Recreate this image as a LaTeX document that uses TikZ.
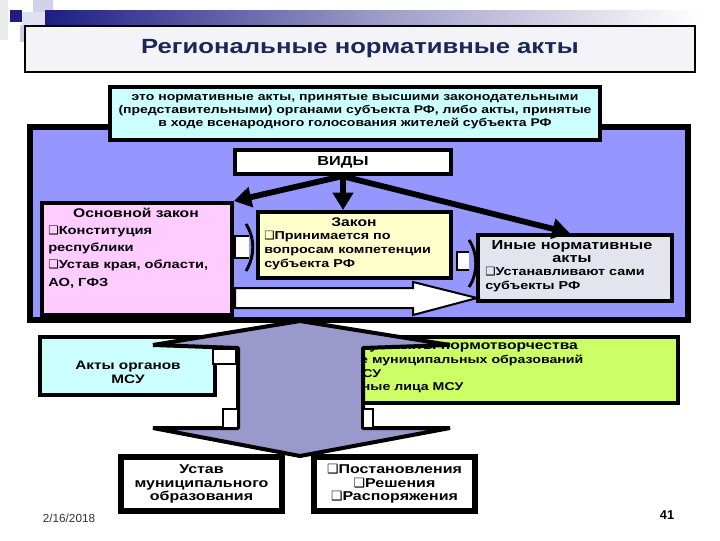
\documentclass[tikz,border=0pt]{standalone}
\usepackage{fontspec}
\setmainfont{Liberation Sans}
\newfontfamily\widefont[FakeStretch=1.25]{Liberation Sans}
\newfontfamily\symfont{DejaVu Sans}
\usetikzlibrary{arrows.meta}
\usetikzlibrary{fit}

\definecolor{barnavy}{RGB}{30,30,130}
\definecolor{titlegray}{RGB}{244,244,248}
\definecolor{titlenavy}{RGB}{25,40,90}
\definecolor{panelblue}{RGB}{150,150,255}
\definecolor{defcyan}{RGB}{204,255,255}
\definecolor{lawpink}{RGB}{255,204,255}
\definecolor{lawyellow}{RGB}{255,255,204}
\definecolor{othergray}{RGB}{228,228,238}
\definecolor{arrowlilac}{RGB}{153,153,204}
\definecolor{msucyan}{RGB}{204,255,255}
\definecolor{subjgreen}{RGB}{204,255,102}

\newcommand{\bsq}{{\symfont ❑}}

\begin{document}
\begin{tikzpicture}[x=0.75pt,y=0.75pt,yscale=-1,xscale=1,
  box/.style={draw=black,line width=3pt,inner sep=0pt},
  txt/.style={font=\widefont\bfseries\fontsize{8.3}{10}\selectfont,inner sep=0pt},
  conn/.style={line width=4.4pt,-{Triangle[length=13pt,width=15pt]}}]
\useasboundingbox (0,0) rectangle (720,540);

%Shape: corner squares
\fill[white] (0,0) rectangle (720,540);
\fill[black!8] (0,0) rectangle (8,40);
\fill[arrowlilac!45] (33,0) rectangle (53,12);
\fill[arrowlilac!30] (22,12) rectangle (45,25);
\fill[arrowlilac!50] (20,25) rectangle (26,42);
\shade[left color=barnavy,right color=white,middle color=barnavy!45!white] (45,10) rectangle (700,25);
\fill[barnavy] (10,10) rectangle (22,22);

%Shape: title
\node[box,line width=1.2pt,fill=titlegray,fit={(25,26) (695,72)}] (titlebox) {};
\node[txt,font=\widefont\bfseries\fontsize{15.4}{18}\selectfont,text=titlenavy] (title) at (360,49) {Региональные нормативные акты};

%Shape: blue panel
\node[box,line width=4pt,fill=panelblue,fit={(30,127) (688,320)}] (panel) {};

%Shape: definition
\node[box,fill=defcyan,fit={(110,87) (600,140)}] (defbox) {};
\node[txt,align=center,font=\widefont\bfseries\fontsize{8.4}{9.8}\selectfont] (deftext) at (355,112) {это нормативные акты, принятые высшими законодательными\\(представительными) органами субъекта РФ, либо акты, принятые\\в ходе всенародного голосования жителей субъекта РФ};

%Shape: kinds
\node[box,fill=white,fit={(235,150) (451,174)}] (vid) {};
\node[txt,font=\widefont\bfseries\fontsize{9.8}{10}\selectfont] (vidtext) at (vid.center) {ВИДЫ};

%Shape: basic law
\node[box,fill=lawpink,fit={(42,203) (232,315)}] (osn) {};
\node[txt,font=\widefont\bfseries\fontsize{9.4}{10}\selectfont] (osnhead) at (136,213) {Основной закон};
\node[txt,align=left,anchor=north west,font=\widefont\bfseries\fontsize{8.8}{12.8}\selectfont] (osnlist) at (48,226) {\bsq Конституция\\республики\\\bsq Устав края, области,\\АО, ГФЗ};

%Shape: law
\node[box,fill=lawyellow,fit={(258,212) (451,278)}] (zak) {};
\node[txt,font=\widefont\bfseries\fontsize{9.4}{10}\selectfont] (zakhead) at (354,222) {Закон};
\node[txt,align=left,anchor=north west,font=\widefont\bfseries\fontsize{8.6}{10.5}\selectfont] (zaklist) at (264,231) {\bsq Принимается по\\вопросам компетенции\\субъекта РФ};

%Shape: other acts
\node[box,fill=othergray,fit={(478,235) (672,301)}] (inye) {};
\node[txt,align=center,font=\widefont\bfseries\fontsize{9.8}{9.8}\selectfont] (inyehead) at (572,252) {Иные нормативные\\акты};
\node[txt,align=left,anchor=north west,font=\widefont\bfseries\fontsize{8.6}{10.5}\selectfont] (inyelist) at (485,267) {\bsq Устанавливают сами\\субъекты РФ};

%Connectors
\draw[conn] (vid.south) -- (osn.north east);
\draw[conn] (vid.south) -- (vid.south |- zak.north);
\draw[conn] ([xshift=-1pt]vid.south) -- ([xshift=-4pt]inye.north);

%Shape: small block arrows
\draw[fill=white,line width=1.5pt] (249,236) -- (235,236) -- (235,258) -- (249,258);
\draw[line width=2.2pt] (246,224) .. controls (255,238) and (255,256) .. (246,271);
\draw[fill=white,line width=1.5pt] (469,252) -- (457,252) -- (457,270) -- (469,270);
\draw[line width=2.2pt] (469,240) .. controls (478,253) and (478,274) .. (469,287);
\draw[fill=white,line width=1.5pt] (235,288) -- (413,288) -- (413,282) -- (477,298) -- (413,315) -- (413,308) -- (235,308) -- cycle;

%Shape: bodies of MSU
\node[box,fill=msucyan,fit={(40,337) (215,395)}] (msu) {};
\node[txt,align=center,font=\widefont\bfseries\fontsize{9.2}{10.5}\selectfont] (msutext) at (128,372) {Акты органов\\МСУ};
\node[box,fill=subjgreen,fit={(262,337) (678,403)}] (subj) {};
\node[txt,font=\widefont\bfseries\fontsize{9.4}{10}\selectfont] (subjhead) at (468,346) {Субъекты нормотворчества};
\node[txt,align=left,anchor=north west,font=\widefont\bfseries\fontsize{8.5}{10}\selectfont] (subjlist) at (282,355) {\bsq Население муниципальных образований\\\bsq Органы МСУ\\\bsq Должностные лица МСУ};

%Shape: double arrow
\draw[fill=arrowlilac,line width=3pt,line join=bevel] (300,321) -- (450,345) -- (363,348) -- (363,428) -- (450,428) -- (300,456) -- (153,428) -- (238,428) -- (238,348) -- (153,345) -- cycle;
\draw[fill=white,line width=2pt] (213,349) rectangle (236,364);
\draw[fill=white,line width=2pt] (223,409) rectangle (238,428);
\draw[fill=white,line width=2pt] (363,409) rectangle (373,428);

%Shape: charter and acts
\node[box,line width=4pt,fill=white,fit={(121,457) (282,511)}] (ustav) {};
\node[txt,align=center,font=\widefont\bfseries\fontsize{9.6}{10.2}\selectfont] (ustavtext) at (ustav.center) {Устав\\муниципального\\образования};
\node[box,line width=4pt,fill=white,fit={(314,457) (475,511)}] (docs) {};
\node[txt,align=center,font=\widefont\bfseries\fontsize{9.6}{10.2}\selectfont] (docstext) at (docs.center) {\bsq Постановления\\\bsq Решения\\\bsq Распоряжения};

% Text Node
\node[txt,font=\fontsize{8.8}{9}\selectfont,text=black!80] (date) at (69,518) {2/16/2018};
% Text Node
\node[txt,font=\bfseries\fontsize{9.6}{10}\selectfont] (page) at (667,515) {41};
\end{tikzpicture}
\end{document}
